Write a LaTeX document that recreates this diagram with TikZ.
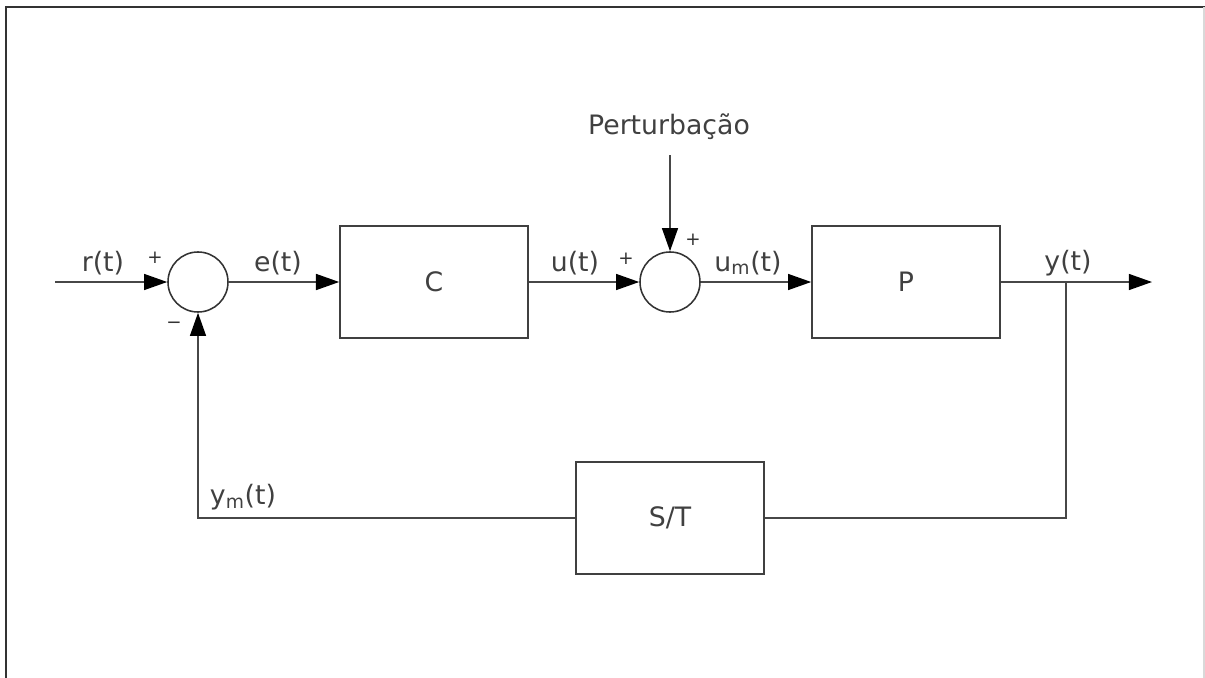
\documentclass[tikz,border=0pt]{standalone}
\usepackage{fontspec}
\setmainfont{DejaVu Sans}
\usepackage{tikz}
\usetikzlibrary{arrows.meta}
\usetikzlibrary{shapes,arrows}

\begin{document}
\begin{tikzpicture}[x=0.025cm,y=-0.025cm,>={Triangle[length=5.8mm,width=4mm,black]},line width=1.1pt,draw=black!72]
	\def \mainrow{282}
	\def \backrow{518}
	\tikzstyle{b-node}=[rectangle,draw=black!75,line width=1.1pt,inner sep=0pt,minimum width=4.7cm,minimum height=2.8cm,text=black!75,font=\fontsize{19}{22}\selectfont]
	\tikzstyle{s-node}=[circle,draw=black!80,line width=1.1pt,inner sep=0pt,minimum size=1.5cm]
	\tikzstyle{annot}=[text=black!75,font=\fontsize{19}{22}\selectfont]
	\tikzstyle{sign}=[text=black!80,font=\fontsize{13}{15}\selectfont]
	\useasboundingbox (0,0) rectangle (1205,678);

	% sheet frame
	\draw[line width=1.4pt,black!80] (6,678) -- (6,7) -- (1205,7);
	\draw[line width=0.8pt,black!15] (1204,7) -- (1204,678);

	% forward path
	\coordinate (in)	at (55,\mainrow);
	\node[s-node]	(s1)	at (198,\mainrow)	{};
	\node[b-node]	(c)	at (434,\mainrow)	{C};
	\node[s-node]	(s2)	at (670,\mainrow)	{};
	\node[b-node]	(p)	at (906,\mainrow)	{P};
	\coordinate (br)	at (1066,\mainrow);
	\coordinate (out)	at (1152,\mainrow);

	% disturbance input
	\node[annot]	(pert-label)	at (669,127)	{Perturbação};
	\coordinate (pert)	at (670,155);

	% feedback path
	\node[b-node]	(st)	at (670,\backrow)	{S/T};

	% signal labels
	\node[annot]	(r-label)	at (103,263)	{r(t)};
	\node[annot]	(e-label)	at (278,263)	{e(t)};
	\node[annot]	(u-label)	at (575,263)	{u(t)};
	\node[annot]	(um-label)	at (748,263)	{u\textsubscript{m}(t)};
	\node[annot]	(y-label)	at (1068,263)	{y(t)};
	\node[annot]	(ym-label)	at (243,497)	{y\textsubscript{m}(t)};

	% signs at the summing junctions
	\node[sign]	(s1-plus)	at (155,258)	{+};
	\node[sign]	(s1-minus)	at (174,325)	{−};
	\node[sign]	(s2-plus)	at (626,259)	{+};
	\node[sign]	(s2-top)	at (693,240)	{+};

	\draw[->] (in) -- (s1);
	\draw[->] (s1) -- (c);
	\draw[->] (c) -- (s2);
	\draw[->] (pert) -- (s2);
	\draw[->] (s2) -- (p);
	\draw[->] (p) -- (out);
	\draw (br) |- (st);
	\draw[->] (st) -| (s1);

\end{tikzpicture}
\end{document}
